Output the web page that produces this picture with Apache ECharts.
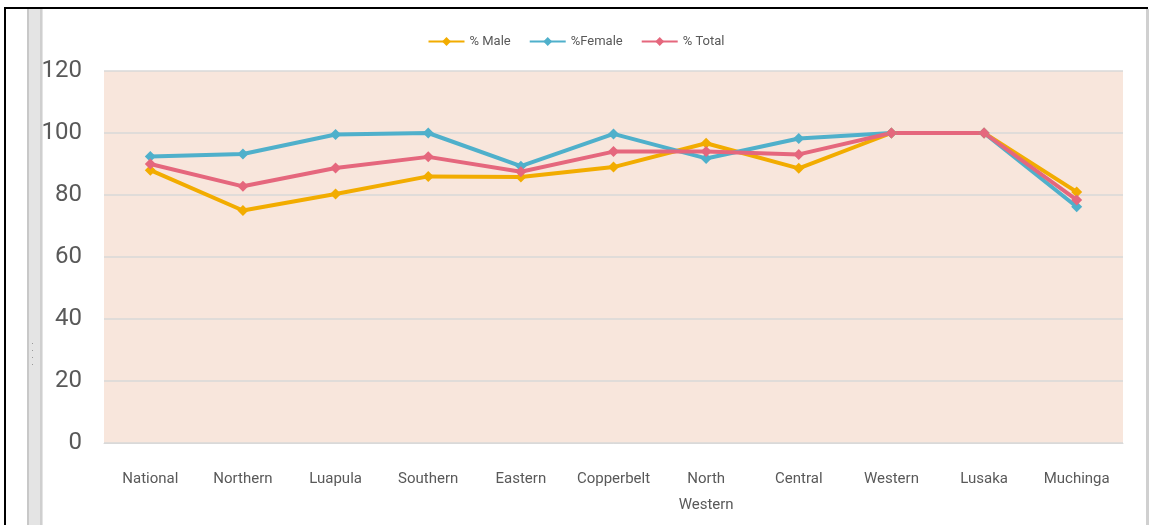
<!DOCTYPE html>
<html>
<head>
<meta charset="utf-8">
<script src="https://cdn.jsdelivr.net/npm/echarts@6/dist/echarts.min.js"></script>
<style>
html,body{margin:0;padding:0;background:#fff;}
#chart{width:1152px;height:525px;}
</style>
</head>
<body>
<div id="chart"></div>
<script>
var categories = ['National','Northern','Luapula','Southern','Eastern','Copperbelt','North\nWestern','Central','Western','Lusaka','Muchinga'];
var male   = [88, 75, 80.3, 86, 85.8, 89, 96.7, 88.6, 100, 100, 81];
var female = [92.4, 93.2, 99.5, 100, 89.3, 99.7, 91.8, 98.2, 100, 100, 76.2];
var total  = [90, 82.8, 88.7, 92.3, 87.5, 94, 94, 93.1, 100, 100, 78.4];
var seriesNames = ['% Male', '%Female', '% Total'];
var yTicks = {min: 0, max: 120, interval: 20};

var FONT = 'Roboto';
var chart = echarts.init(document.getElementById('chart'));
function mk(name, data, color) {
  return {
    name: name, type: 'line', data: data,
    symbol: 'diamond', symbolSize: 11,
    lineStyle: {width: 4, color: color},
    itemStyle: {color: color},
    emphasis: {disabled: true}
  };
}
chart.setOption({
  animation: false,
  textStyle: {fontFamily: FONT},
  graphic: [
    {type: 'rect', shape: {x: 4, y: 7, width: 1144, height: 2}, style: {fill: '#000'}},
    {type: 'rect', shape: {x: 4, y: 7, width: 2, height: 518}, style: {fill: '#000'}},
    {type: 'rect', shape: {x: 27, y: 9, width: 16, height: 516}, style: {fill: '#E4E4E4'}},
    {type: 'rect', shape: {x: 27, y: 9, width: 2, height: 516}, style: {fill: '#C8C8C8'}},
    {type: 'rect', shape: {x: 40, y: 9, width: 2, height: 516}, style: {fill: '#CFCFCF'}},
    {type: 'rect', shape: {x: 32, y: 343, width: 1, height: 1}, style: {fill: '#999'}},
    {type: 'rect', shape: {x: 32, y: 350, width: 1, height: 1}, style: {fill: '#999'}},
    {type: 'rect', shape: {x: 32, y: 357, width: 1, height: 1}, style: {fill: '#999'}},
    {type: 'rect', shape: {x: 32, y: 364, width: 1, height: 1}, style: {fill: '#999'}},
    {type: 'rect', shape: {x: 1146, y: 9, width: 3, height: 516}, style: {fill: '#D0D0D0'}}
  ],
  legend: {
    top: 30, left: 'center',
    itemWidth: 36, itemHeight: 11, itemGap: 18,
    textStyle: {fontSize: 13, color: '#595959', fontFamily: FONT},
    data: seriesNames
  },
  grid: {left: 104, right: 29, top: 71, bottom: 82, show: true, backgroundColor: '#F8E6DC', borderWidth: 0},
  xAxis: {
    type: 'category', data: categories, boundaryGap: true,
    axisLine: {lineStyle: {color: '#D9D9D9', width: 1}},
    axisTick: {show: false},
    axisLabel: {fontSize: 15, color: '#595959', margin: 23, lineHeight: 26, interval: 0, fontFamily: FONT}
  },
  yAxis: {
    type: 'value', min: yTicks.min, max: yTicks.max, interval: yTicks.interval,
    axisLine: {show: false}, axisTick: {show: false},
    axisLabel: {fontSize: 24, color: '#595959', margin: 22, fontFamily: FONT},
    splitLine: {lineStyle: {color: '#D9D9D9', width: 1.5}}
  },
  series: [
    mk(seriesNames[0], male, '#F2AC00'),
    mk(seriesNames[1], female, '#4FB0CB'),
    mk(seriesNames[2], total, '#E5677D')
  ]
});
</script>
</body>
</html>
